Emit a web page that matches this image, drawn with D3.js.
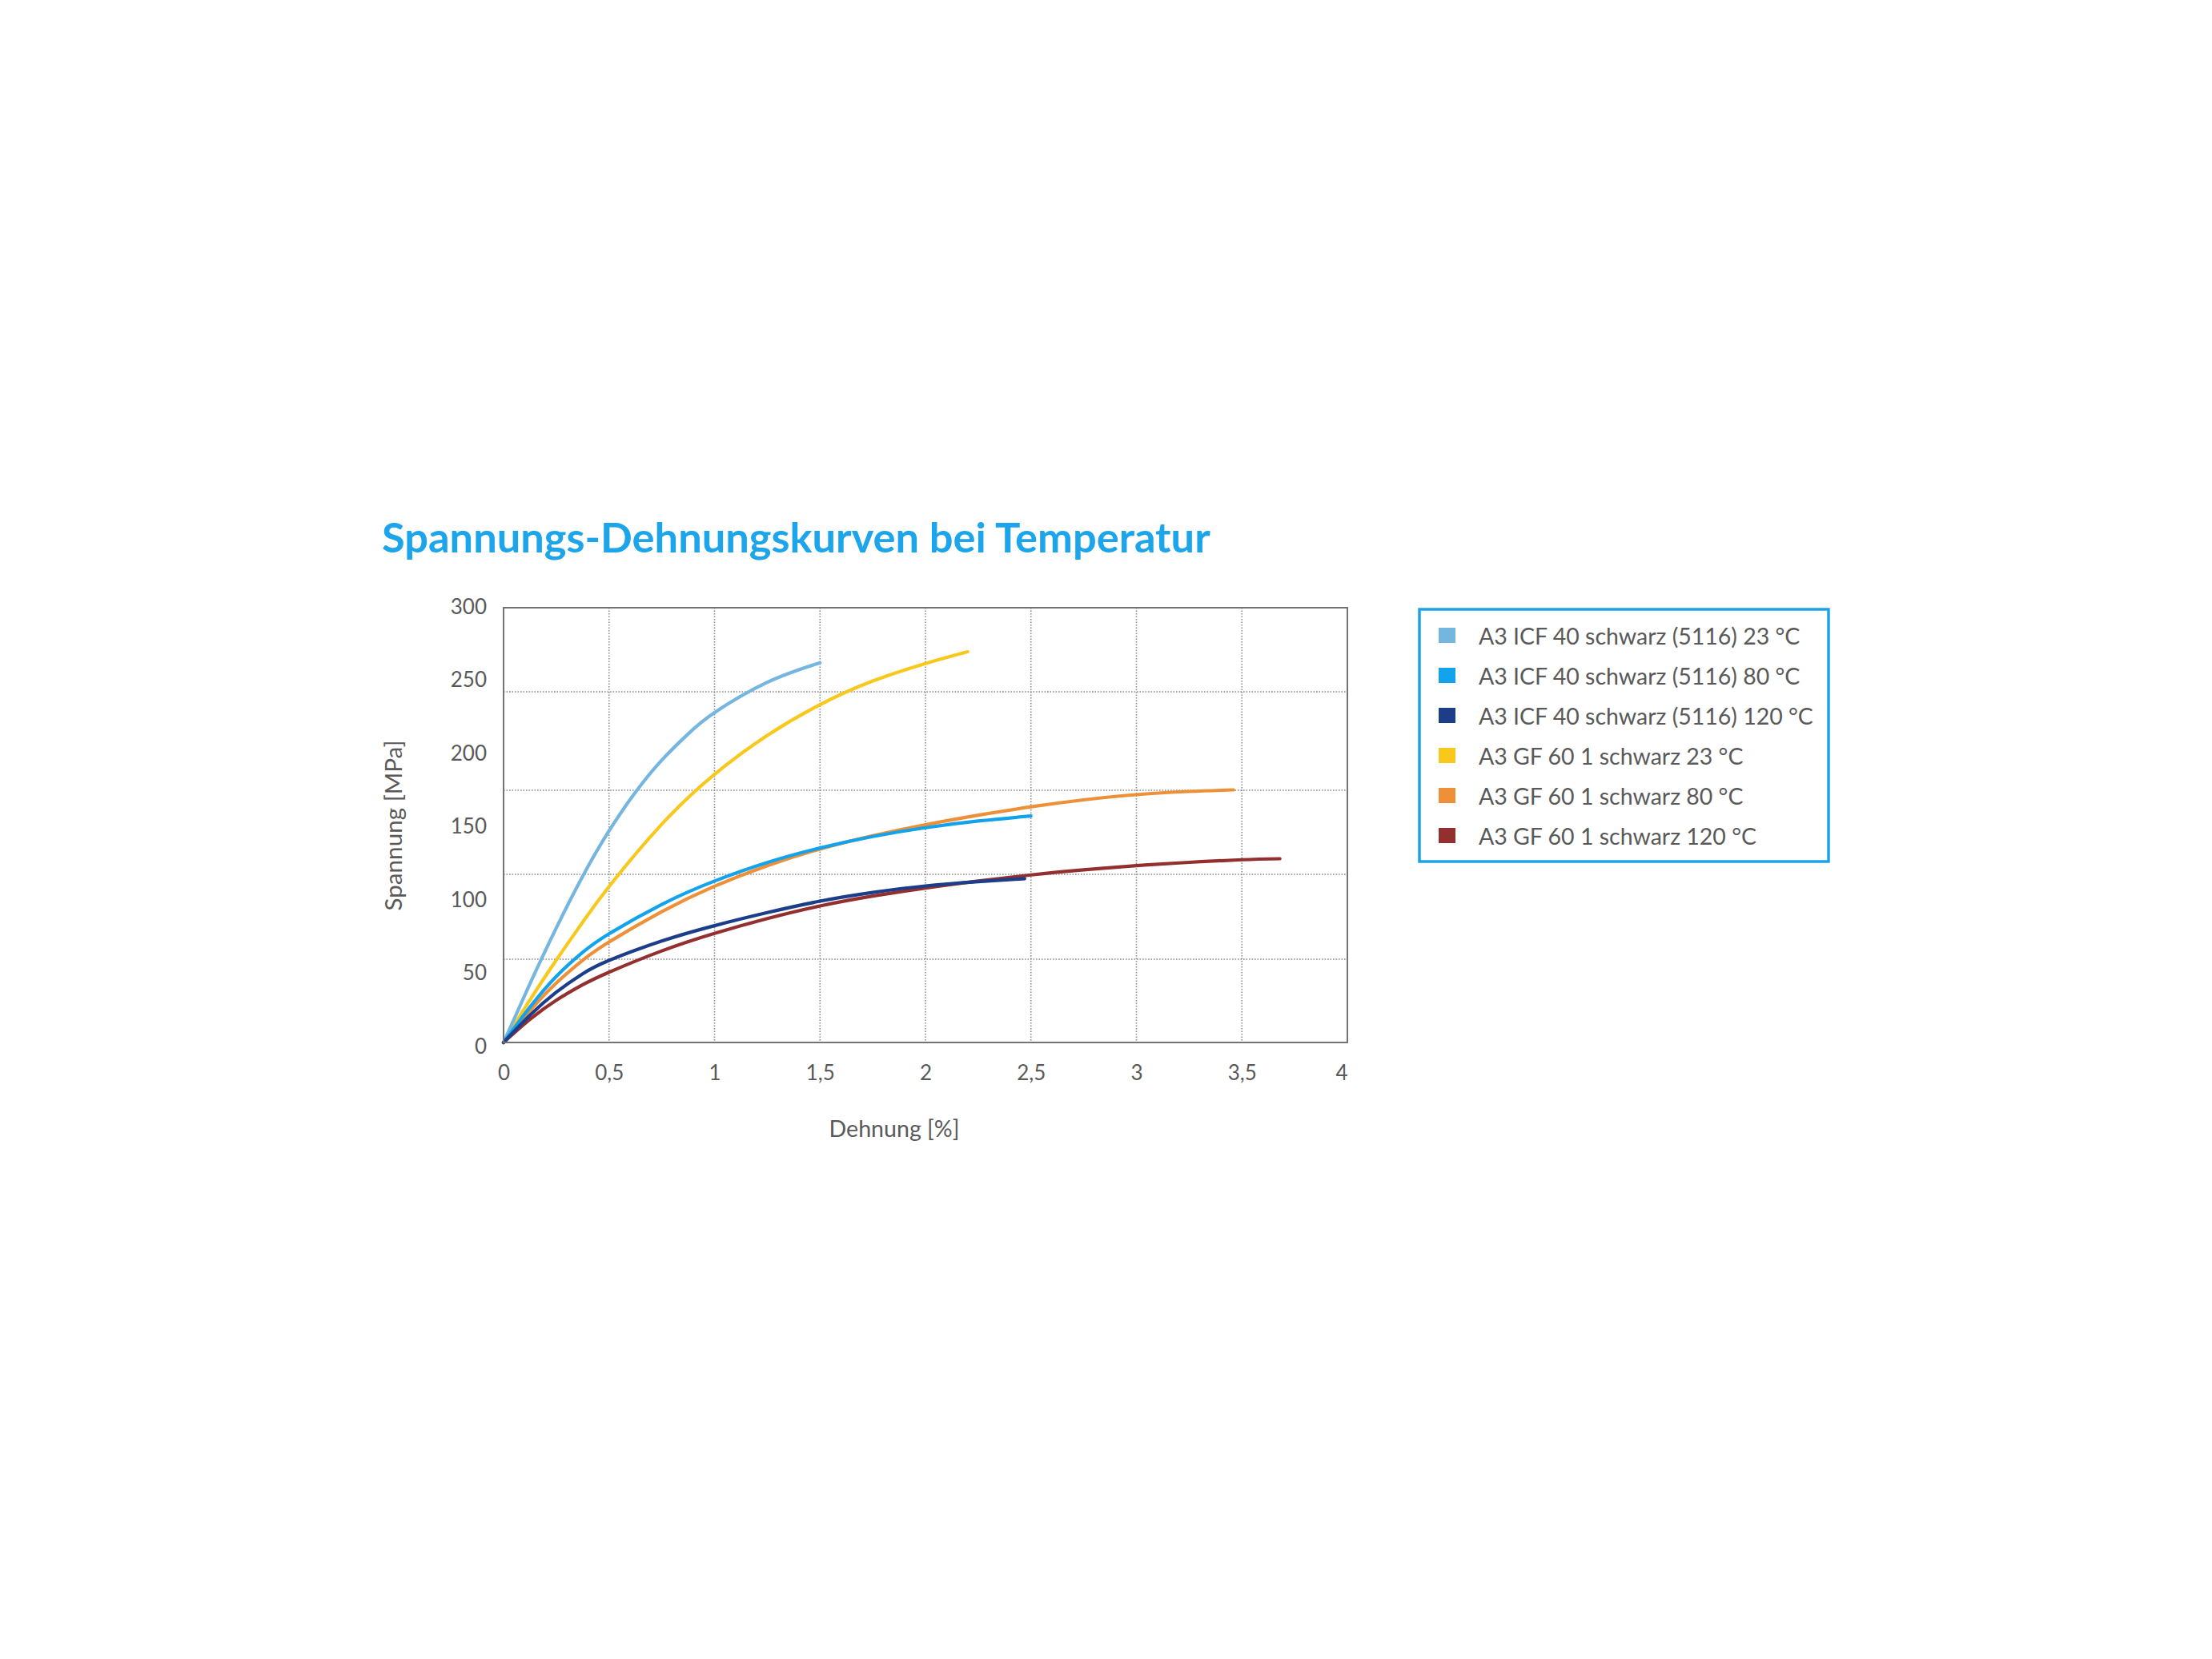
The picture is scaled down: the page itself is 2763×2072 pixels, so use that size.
<!DOCTYPE html>
<html>
<head>
<meta charset="utf-8">
<script src="https://cdn.jsdelivr.net/npm/d3@7"></script>
<style>
  html, body { margin: 0; padding: 0; background: #ffffff; }
  svg { display: block; }
</style>
</head>
<body>
<script>
// ---------------- DATA ----------------
const chartTitle = "Spannungs-Dehnungskurven bei Temperatur";
const xAxisTitle = "Dehnung [%]";
const yAxisTitle = "Spannung [MPa]";

const xTicks = [0, 0.5, 1, 1.5, 2, 2.5, 3, 3.5, 4];
const xTickLabels = ["0", "0,5", "1", "1,5", "2", "2,5", "3", "3,5", "4"];
const yTicks = [0, 50, 100, 150, 200, 250, 300];
const yTickLabels = ["0", "50", "100", "150", "200", "250", "300"];
const xGridValues = [0.5, 1, 1.5, 2, 2.5, 3, 3.5];
const yGridValues = [57.5, 116, 174, 242];

const seriesNames = [
  "A3 ICF 40 schwarz (5116) 23 °C",
  "A3 ICF 40 schwarz (5116) 80 °C",
  "A3 ICF 40 schwarz (5116) 120 °C",
  "A3 GF 60 1 schwarz 23 °C",
  "A3 GF 60 1 schwarz 80 °C",
  "A3 GF 60 1 schwarz 120 °C"
];
const seriesColors = ["#74b6e0", "#12a3ec", "#1b3d8a", "#f8c81c", "#ee9037", "#93302f"];

// strain [%], stress [MPa]
const icf23 = [[0,0],[0.125,40.5],[0.25,79.1],[0.375,114.7],[0.5,146],[0.625,172.6],[0.75,194.8],[0.875,212.9],[1.0,227.6],[1.25,248.5],[1.5,262]];
const icf80 = [[0,0],[0.125,24.4],[0.25,45.6],[0.375,62.2],[0.5,75],[0.75,95.3],[1.0,111.4],[1.25,124.2],[1.5,134.2],[1.75,142.1],[2.0,148.2],[2.25,152.8],[2.5,156.3]];
const icf120 = [[0,0],[0.125,18.8],[0.25,34.7],[0.375,47.4],[0.5,56.6],[0.75,70],[1.0,80.6],[1.25,89.6],[1.5,97.5],[1.75,103.5],[2.0,108],[2.25,111],[2.47,113]];
const gf23 = [[0,0],[0.125,29.3],[0.25,56.9],[0.375,83],[0.5,107.6],[0.75,150.6],[1.0,185],[1.25,211.9],[1.5,233.1],[1.75,249.4],[2.0,261.5],[2.2,269.6]];
const gf80 = [[0,0],[0.125,21.9],[0.25,41],[0.375,56.7],[0.5,69.3],[0.75,90.3],[1.0,107.8],[1.25,122],[1.5,133.5],[1.75,142.6],[2.0,150.2],[2.25,156.8],[2.5,162.6],[2.75,167.4],[3.0,171],[3.25,173.2],[3.46,174.3]];
const gf120 = [[0,0],[0.125,15.9],[0.25,29.1],[0.375,39.8],[0.5,48.5],[0.75,63.2],[1.0,75.3],[1.25,85.5],[1.5,94.2],[1.75,101],[2.0,106.6],[2.25,111.4],[2.5,115.6],[2.75,119.1],[3.0,122],[3.25,124.3],[3.5,126.1],[3.68,126.8]];

const seriesData = [icf23, icf80, icf120, gf23, gf80, gf120];
// GF drawn first, ICF on top
const drawOrder = [3, 4, 5, 0, 1, 2];

// ---------------- LAYOUT ----------------
const W = 2763, H = 2072;
const plot = { left: 629, right: 1683, top: 759, bottom: 1302 };
const font = "Lato, 'Open Sans', 'DejaVu Sans', sans-serif";
const textGrey = "#595959";

const svg = d3.select("body").append("svg")
  .attr("width", W).attr("height", H)
  .attr("viewBox", `0 0 ${W} ${H}`);
svg.append("rect").attr("width", W).attr("height", H).attr("fill", "#ffffff");

const x = d3.scaleLinear().domain([0, 4]).range([plot.left, plot.right]);
const y = d3.scaleLinear().domain([0, 300]).range([plot.bottom, plot.top]);
// tick labels in the reference are spread slightly wider than the frame
const yLabel = d3.scaleLinear().domain([0, 300]).range([1315, 766]);

function fitWidth(sel, target) {
  const node = sel.node();
  const fs = parseFloat(sel.attr("font-size"));
  const w = node.getComputedTextLength();
  if (w > 0) sel.attr("font-size", (fs * target / w).toFixed(2));
}

// Title
const title = svg.append("text")
  .attr("x", 477).attr("y", 690)
  .attr("font-family", font).attr("font-weight", 700)
  .attr("font-size", 52).attr("fill", "#1ca5ea")
  .text(chartTitle);
fitWidth(title, 1035);

// Gridlines
const grid = svg.append("g");
grid.selectAll("line.gx").data(xGridValues).join("line")
  .attr("class", "gx")
  .attr("x1", d => x(d)).attr("x2", d => x(d))
  .attr("y1", plot.top).attr("y2", plot.bottom)
  .attr("stroke", "#8a8a8a").attr("stroke-width", 1.6)
  .attr("stroke-dasharray", "1.6,1.9");
grid.selectAll("line.gy").data(yGridValues).join("line")
  .attr("class", "gy")
  .attr("x1", plot.left).attr("x2", plot.right)
  .attr("y1", d => y(d)).attr("y2", d => y(d))
  .attr("stroke", "#8a8a8a").attr("stroke-width", 1.6)
  .attr("stroke-dasharray", "1.6,1.9");

// Axes (labels only)
const xAxis = d3.axisBottom(x).tickValues(xTicks)
  .tickFormat((d, i) => xTickLabels[i]).tickSize(0);
const gx = svg.append("g").attr("transform", `translate(0,${plot.bottom})`).call(xAxis);
gx.select(".domain").remove();
gx.selectAll("text")
  .attr("y", 46.5).attr("dy", 0)
  .attr("font-family", font).attr("font-size", 26).attr("fill", textGrey)
  .attr("text-anchor", (d, i) => i === xTicks.length - 1 ? "end" : "middle");

const yAxis = d3.axisLeft(y).tickValues(yTicks)
  .tickFormat((d, i) => yTickLabels[i]).tickSize(0);
const gy = svg.append("g").attr("transform", `translate(${plot.left},0)`).call(yAxis);
gy.select(".domain").remove();
gy.selectAll("text")
  .attr("x", -21).attr("dy", 0)
  .attr("y", d => yLabel(d) - y(d))
  .attr("font-family", font).attr("font-size", 26).attr("fill", textGrey)
  .attr("text-anchor", "end");

// Axis titles
const xt = svg.append("text")
  .attr("x", 1117).attr("y", 1420).attr("text-anchor", "middle")
  .attr("font-family", font).attr("font-size", 26).attr("fill", textGrey)
  .text(xAxisTitle);
fitWidth(xt, 163);

const yt = svg.append("text")
  .attr("transform", `translate(502,1031) rotate(-90)`)
  .attr("text-anchor", "middle")
  .attr("font-family", font).attr("font-size", 26).attr("fill", textGrey)
  .text(yAxisTitle);
fitWidth(yt, 213);

// Curves
const line = d3.line().x(d => x(d[0])).y(d => y(d[1])).curve(d3.curveNatural);
const curves = svg.append("g");
drawOrder.forEach(i => {
  curves.append("path")
    .attr("d", line(seriesData[i]))
    .attr("fill", "none")
    .attr("stroke", seriesColors[i])
    .attr("stroke-width", 4.2)
    .attr("stroke-linecap", "round")
    .attr("stroke-linejoin", "round");
});

// Plot frame
svg.append("rect")
  .attr("x", plot.left).attr("y", plot.top)
  .attr("width", plot.right - plot.left).attr("height", plot.bottom - plot.top)
  .attr("fill", "none").attr("stroke", "#737373").attr("stroke-width", 2);

// Legend
const legend = svg.append("g");
legend.append("rect")
  .attr("x", 1773).attr("y", 761).attr("width", 511).attr("height", 315)
  .attr("fill", "#ffffff").attr("stroke", "#1ea2e6").attr("stroke-width", 3.5);
const rowY = d3.scaleLinear().domain([0, 5]).range([794, 1044]);
const items = legend.selectAll("g.item").data(seriesNames).join("g")
  .attr("class", "item")
  .attr("transform", (d, i) => `translate(0,${rowY(i)})`);
items.append("rect")
  .attr("x", 1797).attr("y", -10).attr("width", 21).attr("height", 19)
  .attr("fill", (d, i) => seriesColors[i]);
const legTexts = items.append("text")
  .attr("x", 1847).attr("y", 10.5)
  .attr("font-family", font).attr("font-size", 28).attr("fill", textGrey)
  .text(d => d);
// fit size from first label, apply to all
(function () {
  const first = legTexts.filter((d, i) => i === 0);
  const w = first.node().getComputedTextLength();
  const fs = 28 * 401.5 / w;
  legTexts.attr("font-size", fs.toFixed(2));
})();
</script>
</body>
</html>
